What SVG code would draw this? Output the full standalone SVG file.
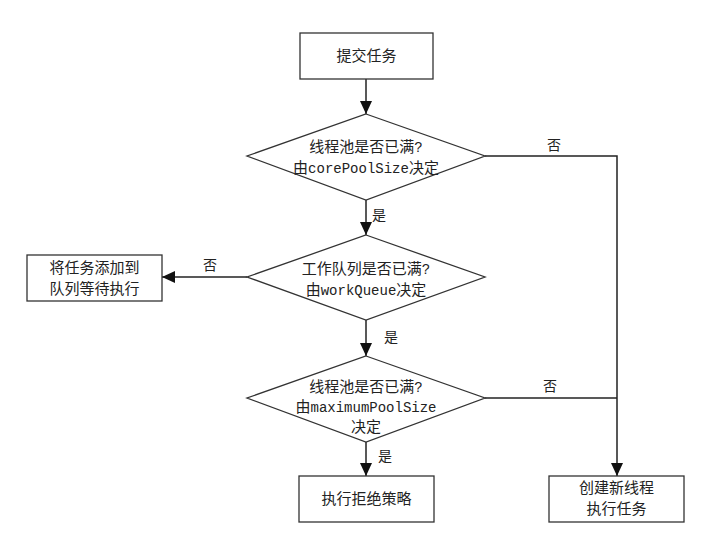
<svg xmlns="http://www.w3.org/2000/svg" width="710" height="546" viewBox="0 0 710 546">
<style>
.shape{fill:#fff;stroke:#333;stroke-width:1.3}
.line{fill:none;stroke:#222;stroke-width:1.5}
text{font-family:"Liberation Mono","Noto Sans CJK SC",monospace;font-size:14px;fill:#222;text-anchor:middle}
.cjk{font-family:"Noto Sans CJK SC",sans-serif;font-size:15px}
.lbl{font-family:"Noto Sans CJK SC",sans-serif;font-size:14px;text-anchor:start}
</style>
<defs>
<marker id="arr" markerUnits="userSpaceOnUse" markerWidth="14" markerHeight="14" viewBox="0 0 14 14" refX="13" refY="7" orient="auto">
<path d="M0,1 L13,7 L0,13 Z" fill="#111"/>
</marker>
</defs>
<rect width="710" height="546" fill="#fff"/>
<g id="connectors">
<line class="line" x1="366" y1="79" x2="366" y2="114" marker-end="url(#arr)"/>
<line class="line" x1="366" y1="200" x2="366" y2="235" marker-end="url(#arr)"/>
<line class="line" x1="366" y1="320" x2="366" y2="356" marker-end="url(#arr)"/>
<line class="line" x1="366" y1="442" x2="366" y2="476" marker-end="url(#arr)"/>
<line class="line" x1="247" y1="277" x2="162" y2="277" marker-end="url(#arr)"/>
<polyline class="line" points="485,156 617,156 617,476" marker-end="url(#arr)"/>
<line class="line" x1="485" y1="398" x2="617" y2="398"/>
<text class="lbl" x="372" y="220">是</text>
<text class="lbl" x="384" y="342">是</text>
<text class="lbl" x="378" y="461">是</text>
<text class="lbl" x="203" y="270">否</text>
<text class="lbl" x="547" y="150">否</text>
<text class="lbl" x="543" y="391">否</text>
</g>
<g id="submit">
<rect class="shape" x="300" y="33" width="133" height="46"/>
<text class="cjk" x="366.5" y="61">提交任务</text>
</g>
<g id="check-core">
<polygon class="shape" points="366,114 485,156 366,200 247,156"/>
<text x="366" y="152"><tspan class="cjk">线程池是否已满</tspan>?</text>
<text x="366" y="173"><tspan class="cjk">由</tspan>corePoolSize<tspan class="cjk">决定</tspan></text>
</g>
<g id="check-queue">
<polygon class="shape" points="366,235 485,277 366,320 247,277"/>
<text x="366" y="274"><tspan class="cjk">工作队列是否已满</tspan>?</text>
<text x="366" y="295"><tspan class="cjk">由</tspan>workQueue<tspan class="cjk">决定</tspan></text>
</g>
<g id="check-max">
<polygon class="shape" points="366,356 485,398 366,442 247,398"/>
<text x="366" y="392"><tspan class="cjk">线程池是否已满</tspan>?</text>
<text x="366" y="412"><tspan class="cjk">由</tspan>maximumPoolSize</text>
<text class="cjk" x="366" y="432">决定</text>
</g>
<g id="enqueue">
<rect class="shape" x="27" y="255" width="135" height="46"/>
<text class="cjk" x="94.5" y="273">将任务添加到</text>
<text class="cjk" x="94.5" y="294">队列等待执行</text>
</g>
<g id="reject">
<rect class="shape" x="299" y="476" width="135" height="46"/>
<text class="cjk" x="366.5" y="504">执行拒绝策略</text>
</g>
<g id="new-thread">
<rect class="shape" x="549" y="476" width="135" height="46"/>
<text class="cjk" x="616.5" y="493">创建新线程</text>
<text class="cjk" x="616.5" y="514">执行任务</text>
</g>
</svg>
